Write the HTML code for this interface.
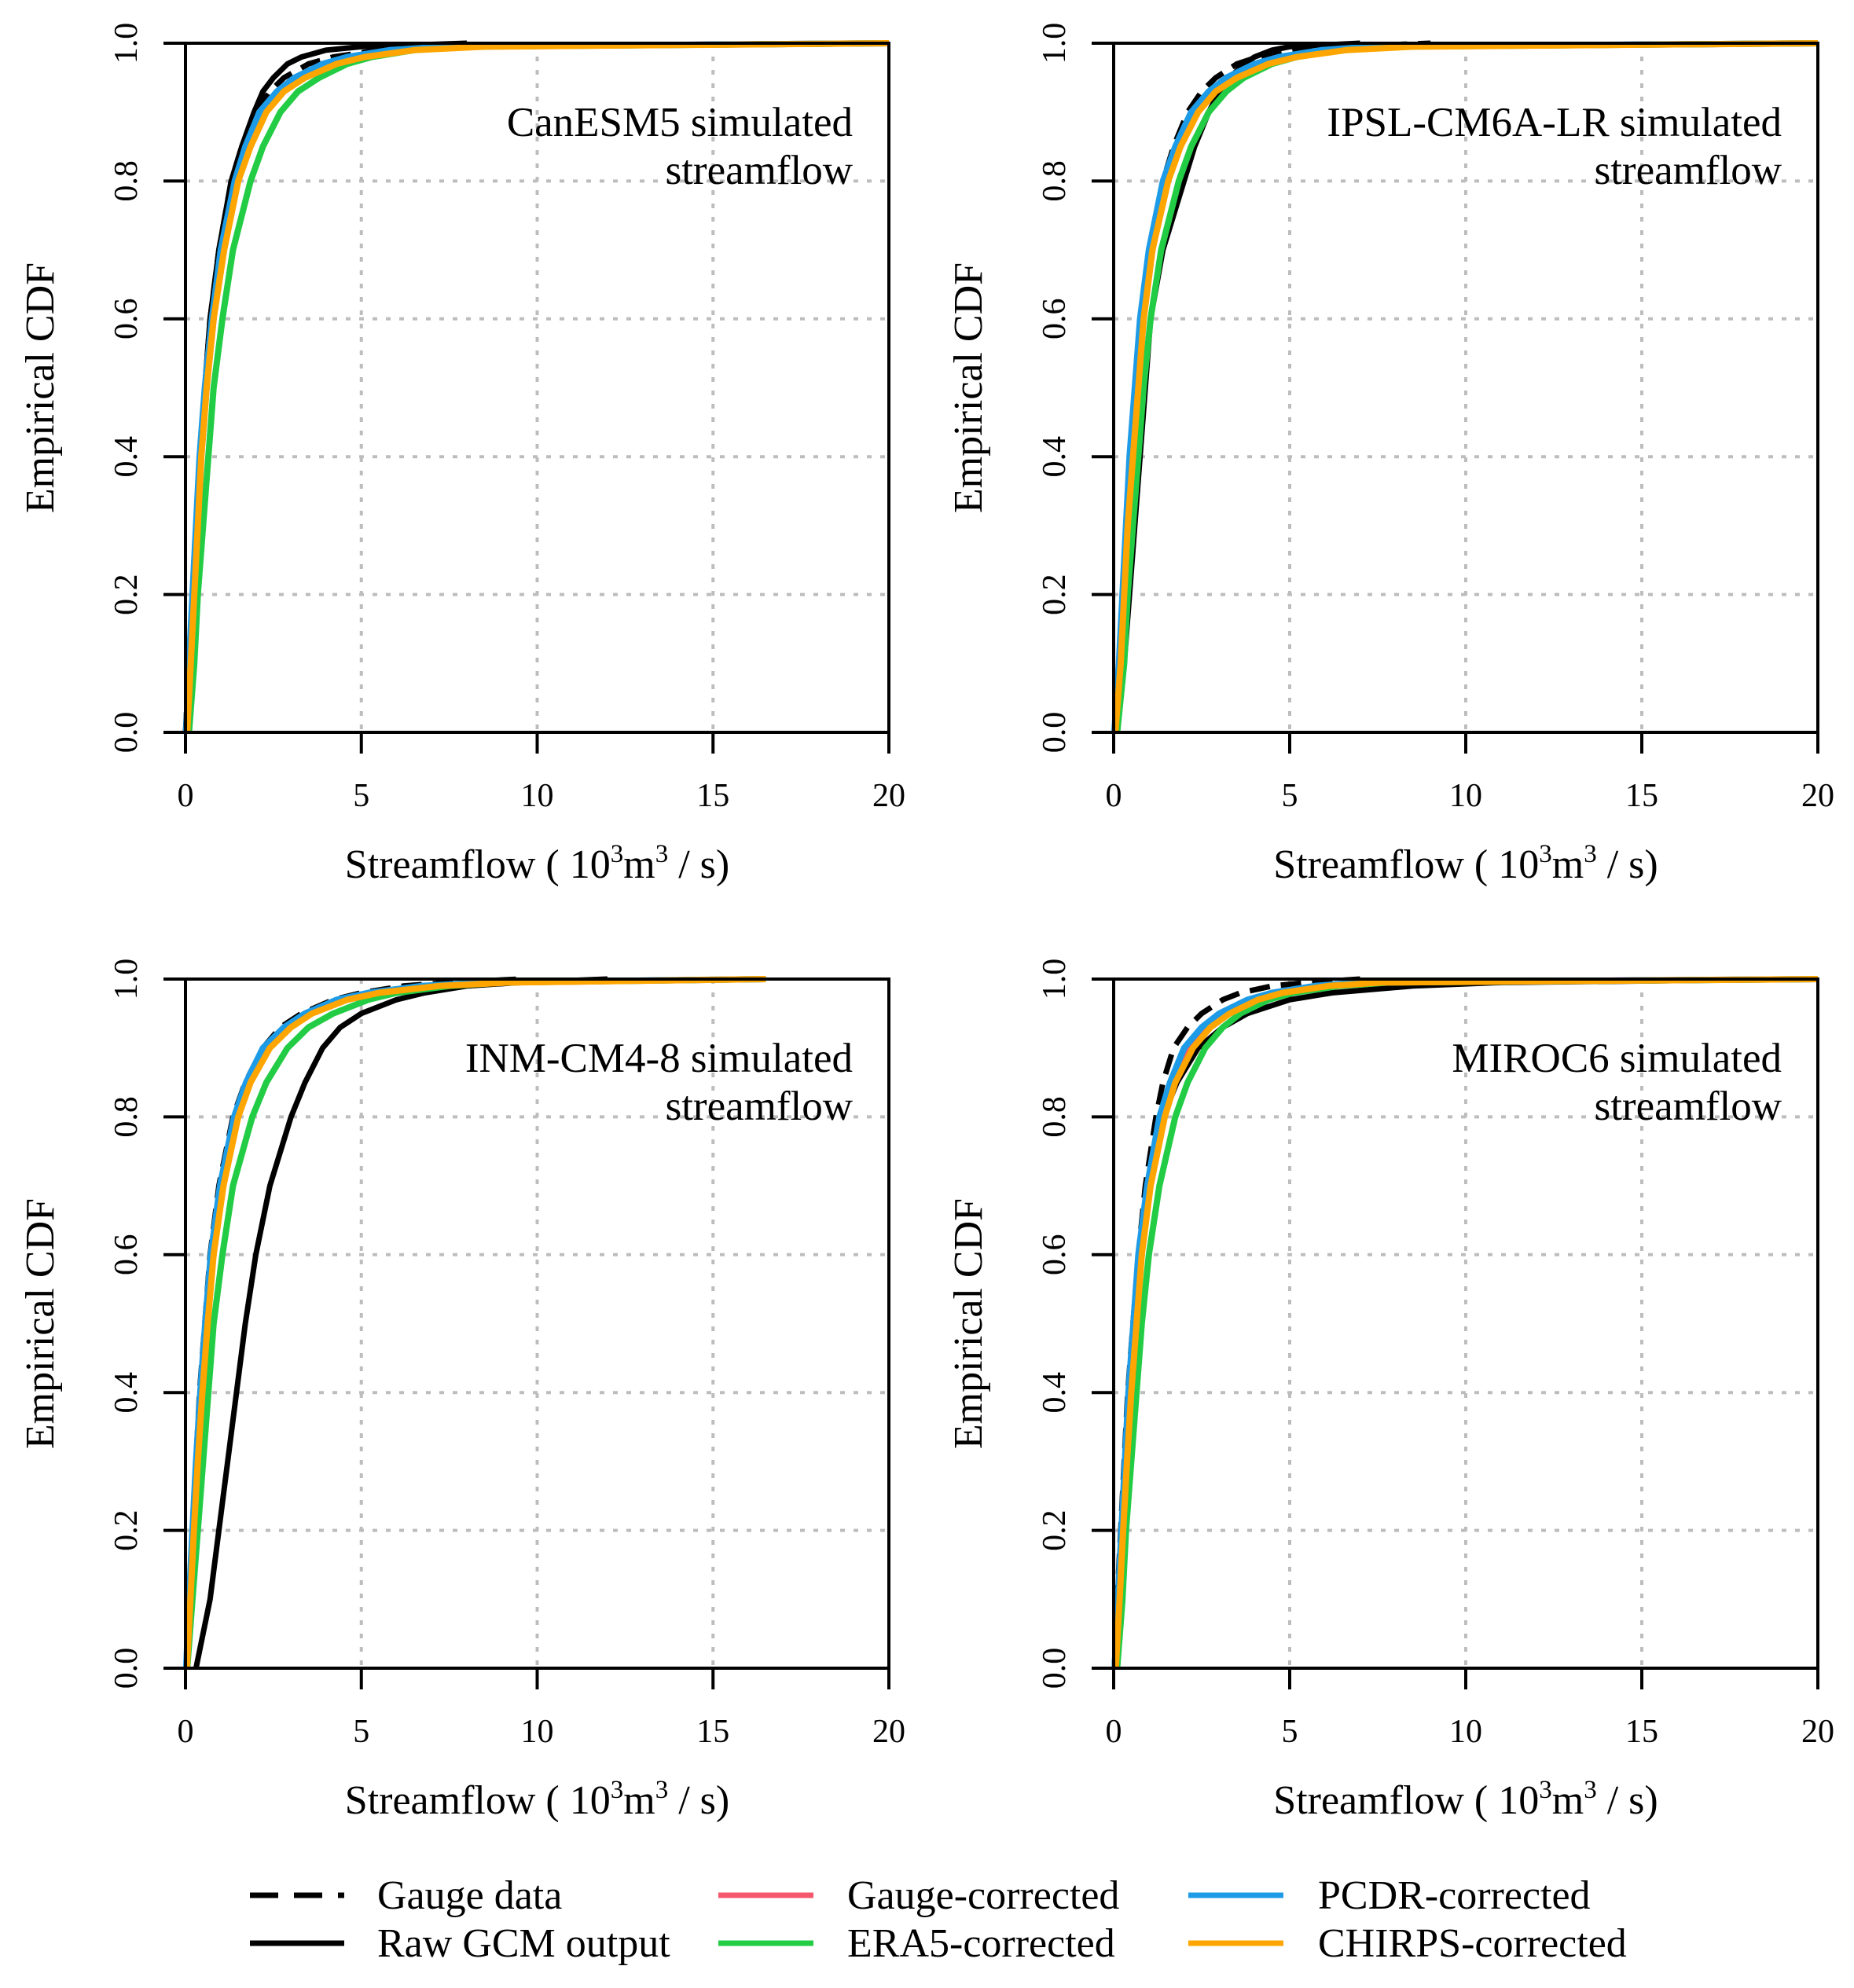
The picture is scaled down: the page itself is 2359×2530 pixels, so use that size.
<!DOCTYPE html>
<html><head><meta charset="utf-8"><style>
body{margin:0;background:#fff}
svg{display:block;font-family:"Liberation Serif",serif}
</style></head><body>
<svg id="fig" width="2359" height="2530" viewBox="0 0 2359 2530" xmlns="http://www.w3.org/2000/svg">
<g font-size="52">
<line x1="318" y1="2412" x2="438" y2="2412" stroke="#000" stroke-width="7" stroke-dasharray="36 20"/>
<text x="480" y="2429">Gauge data</text>
<line x1="318" y1="2473" x2="438" y2="2473" stroke="#000" stroke-width="7"/>
<text x="480" y="2490">Raw GCM output</text>
<line x1="914" y1="2412" x2="1035" y2="2412" stroke="#f5576c" stroke-width="7"/>
<text x="1078" y="2429">Gauge-corrected</text>
<line x1="914" y1="2473" x2="1035" y2="2473" stroke="#22cc44" stroke-width="7"/>
<text x="1078" y="2490">ERA5-corrected</text>
<line x1="1512" y1="2412" x2="1633" y2="2412" stroke="#1e9be6" stroke-width="7"/>
<text x="1677" y="2429">PCDR-corrected</text>
<line x1="1512" y1="2473" x2="1633" y2="2473" stroke="#ffa500" stroke-width="7"/>
<text x="1677" y="2490">CHIRPS-corrected</text>
</g>
</svg>
<script>
const probs=[0,0.1,0.2,0.3,0.4,0.5,0.6,0.7,0.8,0.85,0.9,0.93,0.95,0.97,0.98,0.99,0.995,1];
const xTicks=[0,5,10,15,20];
const yTicks=[0,0.2,0.4,0.6,0.8,1.0];
const seriesNames=["gauge","raw","gaugecorr","era5","pcdr","chirps"];
const panelTitles=[["CanESM5 simulated","streamflow"],["IPSL-CM6A-LR simulated","streamflow"],["INM-CM4-8 simulated","streamflow"],["MIROC6 simulated","streamflow"]];
const canGauge=[0,0.1,0.2,0.3,0.4,0.55,0.7,0.95,1.3,1.6,2.0,2.4,2.8,3.5,4.2,5.5,7,20];
const canRaw=[0.05,0.15,0.25,0.35,0.45,0.55,0.7,0.95,1.3,1.6,1.95,2.2,2.5,2.9,3.3,4,5,8];
const canGc=[0.05,0.15,0.25,0.35,0.45,0.6,0.8,1.05,1.45,1.75,2.2,2.7,3.2,4,4.8,6,7.5,20];
const canEra=[0.1,0.25,0.35,0.5,0.65,0.8,1.05,1.35,1.85,2.2,2.7,3.2,3.8,4.6,5.3,6.5,8,20];
const canPcdr=[0.02,0.1,0.2,0.3,0.4,0.55,0.75,1.0,1.4,1.7,2.1,2.6,3.1,3.9,4.6,5.8,7.3,20];
const canChirps=[0.05,0.15,0.25,0.35,0.45,0.6,0.8,1.1,1.5,1.85,2.3,2.8,3.4,4.3,5.1,6.5,8.5,20];
const ipGauge=[0.05,0.2,0.3,0.4,0.5,0.65,0.8,1.0,1.4,1.7,2.1,2.5,2.9,3.5,4.1,5.2,6.5,9];
const ipRaw=[0.1,0.3,0.45,0.6,0.75,0.9,1.05,1.4,2.0,2.3,2.7,3.0,3.3,3.7,4.0,4.5,5,7];
const ipGc=[0.05,0.2,0.3,0.4,0.55,0.7,0.85,1.1,1.5,1.85,2.3,2.8,3.3,4.1,4.8,6,7.5,20];
const ipEra=[0.1,0.3,0.4,0.55,0.7,0.85,1.05,1.35,1.85,2.2,2.7,3.2,3.7,4.5,5.2,6.5,8,20];
const ipPcdr=[0.02,0.15,0.25,0.35,0.45,0.6,0.75,1.0,1.4,1.75,2.2,2.7,3.2,4.0,4.7,5.9,7.3,20];
const ipChirps=[0.05,0.2,0.3,0.4,0.55,0.7,0.85,1.1,1.55,1.9,2.4,2.9,3.5,4.4,5.2,6.6,8.5,20];
const inGauge=[0.02,0.1,0.2,0.3,0.4,0.55,0.7,0.95,1.35,1.7,2.2,2.7,3.3,4.2,5,6.2,7.5,9.5];
const inRaw=[0.3,0.7,0.95,1.2,1.45,1.7,2.0,2.4,3.0,3.4,3.9,4.4,5.0,6.0,6.8,8,9.5,12];
const inGc=[0.03,0.12,0.22,0.32,0.45,0.6,0.78,1.05,1.45,1.8,2.3,2.9,3.5,4.5,5.4,7,9,16.5];
const inEra=[0.05,0.2,0.35,0.5,0.65,0.8,1.05,1.35,1.9,2.3,2.9,3.5,4.2,5.2,6,7.5,9,16.5];
const inPcdr=[0.02,0.1,0.2,0.3,0.42,0.56,0.72,0.98,1.38,1.72,2.2,2.8,3.4,4.3,5.2,6.7,8.5,16.5];
const inChirps=[0.04,0.14,0.24,0.35,0.48,0.63,0.8,1.08,1.5,1.85,2.4,3.0,3.6,4.6,5.5,7.2,9.2,16.5];
const miGauge=[0.02,0.1,0.2,0.3,0.4,0.55,0.7,0.9,1.2,1.4,1.7,2.1,2.5,3.1,3.6,4.5,5.5,7];
const miRaw=[0.05,0.15,0.25,0.35,0.45,0.6,0.75,1.0,1.4,1.8,2.4,3.1,3.8,5.0,6.2,8.5,11,20];
const miGc=[0.05,0.15,0.25,0.35,0.45,0.6,0.75,1.0,1.35,1.65,2.1,2.6,3.1,3.9,4.6,5.8,7.2,20];
const miEra=[0.1,0.25,0.35,0.5,0.65,0.8,1.0,1.3,1.75,2.1,2.6,3.1,3.6,4.4,5.1,6.4,7.8,20];
const miPcdr=[0.03,0.12,0.22,0.32,0.42,0.56,0.7,0.95,1.3,1.6,2.0,2.5,3.0,3.8,4.5,5.7,7,20];
const miChirps=[0.06,0.17,0.27,0.38,0.5,0.65,0.8,1.05,1.45,1.75,2.25,2.75,3.3,4.1,4.8,6.1,7.6,20];
const panelData=[[canGauge,canRaw,canGc,canEra,canPcdr,canChirps],[ipGauge,ipRaw,ipGc,ipEra,ipPcdr,ipChirps],[inGauge,inRaw,inGc,inEra,inPcdr,inChirps],[miGauge,miRaw,miGc,miEra,miPcdr,miChirps]];
const colors={gauge:"#000",raw:"#000",gaugecorr:"#f5576c",era5:"#22cc44",pcdr:"#1e9be6",chirps:"#ffa500"};
const NS="http://www.w3.org/2000/svg";
const svg=document.getElementById("fig");
function mk(tag,attrs,parent,txt){const e=document.createElementNS(NS,tag);for(const k in attrs)e.setAttribute(k,attrs[k]);if(txt!==undefined)e.textContent=txt;parent.appendChild(e);return e;}
const boxes=[{l:236,r:1131,t:55,b:932},{l:1417,r:2313,t:55,b:932},{l:236,r:1131,t:1246,b:2123},{l:1417,r:2313,t:1246,b:2123}];
boxes.forEach((B,pi)=>{
  const X=v=>B.l+(v/20)*(B.r-B.l);
  const Y=v=>B.b-v*(B.b-B.t);
  const g=mk("g",{},svg);
  
  
  xTicks.slice(1,4).forEach(t=>{const l=mk("line",{x1:X(t),x2:X(t),y1:B.t,y2:B.b,stroke:"#bdbdbd","stroke-width":4,"stroke-dasharray":"6 11"},g);
    
    });
  yTicks.slice(1,5).forEach(t=>{const l=mk("line",{x1:B.l,x2:B.r,y1:Y(t),y2:Y(t),stroke:"#bdbdbd","stroke-width":4,"stroke-dasharray":"6 11"},g);
    
    });
  panelData[pi].forEach((arr,si)=>{
    const pts=arr.map((x,i)=>X(x).toFixed(1)+","+Y(probs[i]).toFixed(1)).join(" ");
    const a={points:pts,fill:"none",stroke:colors[seriesNames[si]],"stroke-width":si<2?7:8,"stroke-linejoin":"round"};
    if(si===0)a["stroke-dasharray"]="26 14";
    const p=mk("polyline",a,g);
    
    
  });
  const f=mk("rect",{x:B.l,y:B.t,width:B.r-B.l,height:B.b-B.t,fill:"none",stroke:"#000","stroke-width":4},g);
  
  
  xTicks.forEach(t=>{
    mk("line",{x1:X(t),x2:X(t),y1:B.b,y2:B.b+27,stroke:"#000","stroke-width":4},g);
    const tx=mk("text",{x:X(t),y:B.b+94,"text-anchor":"middle","font-size":42},g,String(t));
    
    
  });
  yTicks.forEach(t=>{
    mk("line",{x1:B.l-28,x2:B.l,y1:Y(t),y2:Y(t),stroke:"#000","stroke-width":4},g);
    const tx=mk("text",{x:0,y:0,"text-anchor":"middle","font-size":42,transform:"translate("+(B.l-62)+","+Y(t)+") rotate(-90)"},g,t.toFixed(1));
    
    
  });
  const xt=mk("text",{x:(B.l+B.r)/2,y:B.b+185,"text-anchor":"middle","font-size":52},g);
  
  
  xt.innerHTML='Streamflow ( 10<tspan dy="-20" font-size="33">3</tspan><tspan dy="20">m</tspan><tspan dy="-20" font-size="33">3</tspan><tspan dy="20"> / s)</tspan>';
  const yt=mk("text",{x:0,y:0,"text-anchor":"middle","font-size":52,transform:"translate("+(B.l-168)+","+((B.t+B.b)/2)+") rotate(-90)"},g,"Empirical CDF");
  
  
  panelTitles[pi].forEach((s,i)=>{
    const tt=mk("text",{x:B.r-46,y:B.t+118+i*61,"text-anchor":"end","font-size":53},g,s);
    
    
  });
});
</script>
</body></html>
